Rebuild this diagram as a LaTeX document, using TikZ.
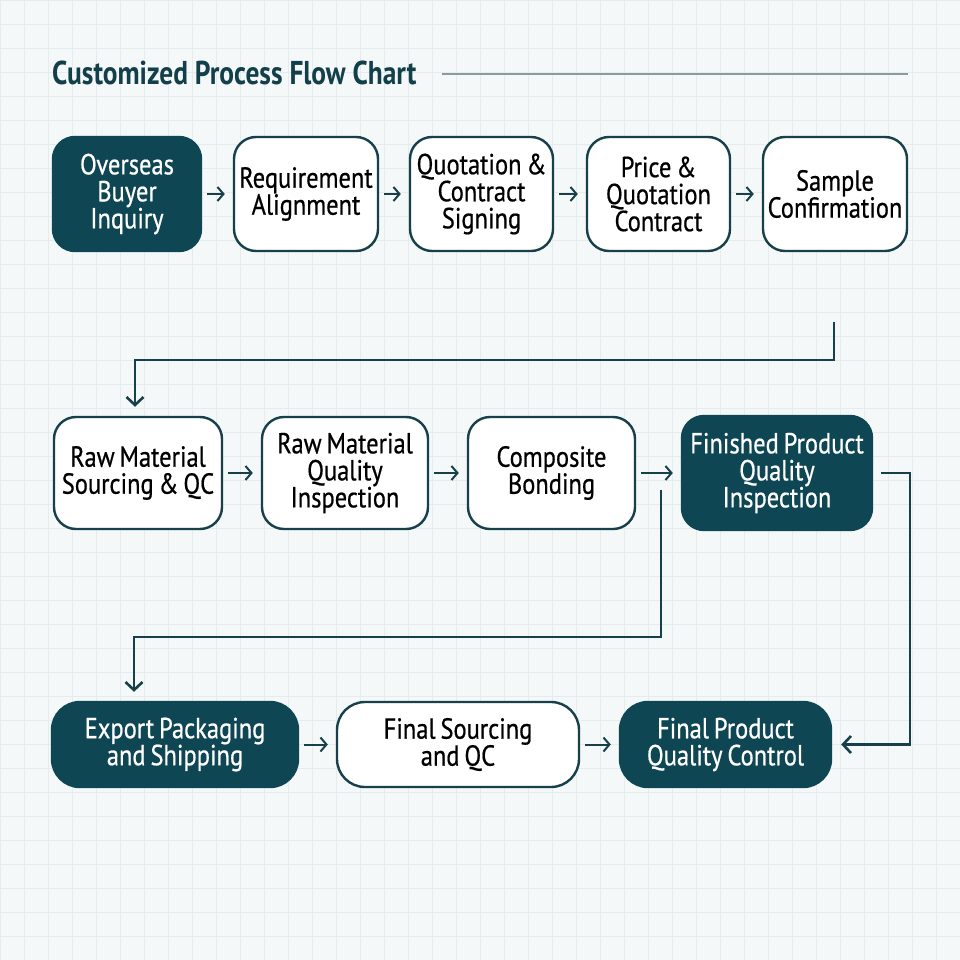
\documentclass[tikz,border=0pt]{standalone}
\usepackage{fontspec}
\setmainfont[FakeStretch=0.845,FakeBold=0.6,WordSpace=0.75]{PT Sans}
\newfontfamily\titlefont[FakeStretch=0.83]{PT Sans}
\usetikzlibrary{arrows.meta,calc}
\definecolor{bgc}{HTML}{F4F8F8}
\definecolor{gridc}{HTML}{E4ECED}
\definecolor{darkc}{HTML}{0E4654}
\definecolor{bordc}{HTML}{17404A}
\definecolor{titlec}{HTML}{133F4A}
\definecolor{rulec}{HTML}{8C9B9D}
\tikzset{
  box/.style={draw=bordc, line width=2.4pt, rounded corners=22pt, fill=white, text=black,
    align=center, inner sep=0pt, font=\fontsize{29}{27}\selectfont},
  dbox/.style={box, fill=darkc, draw=darkc, text=white},
  flow/.style={draw=bordc, line width=2pt, -{Straight Barb[length=6pt,width=14pt]},
    shorten <=5pt, shorten >=8pt},
  conn/.style={draw=bordc, line width=2.6pt, -{Straight Barb[length=8pt,width=17pt]}}
}
\begin{document}
\begin{tikzpicture}[x=1pt,y=-1pt]
\useasboundingbox (0,0) rectangle (960,960);
\fill[bgc] (0,0) rectangle (960,960);
\foreach \i in {0,24,...,960} {
  \draw[gridc, line width=0.6pt] (\i,0) -- (\i,960);
  \draw[gridc, line width=0.6pt] (0,\i) -- (960,\i);
}
% title
\node[anchor=base west, inner sep=0pt, text=titlec, font=\titlefont\bfseries\fontsize{33}{35}\selectfont] (title) at (52,85) {Customized Process Flow Chart};
\coordinate (ruleend) at (908,74);
\draw[rulec, line width=1.2pt] ($(title.base east)+(25,-11)$) -- (ruleend);
% row 1
\node[dbox, minimum width=148pt, minimum height=114pt] (b1) at (127,194) {Overseas\\Buyer\\Inquiry};
\node[box, minimum width=144pt, minimum height=114pt] (b2) at (306,194) {Requirement\\Alignment};
\node[box, minimum width=143pt, minimum height=114pt] (b3) at (481.5,194) {Quotation \&\\Contract\\Signing};
\node[box, minimum width=143pt, minimum height=114pt] (b4) at (658.5,194) {Price \&\\Quotation\\Contract};
\node[box, minimum width=144pt, minimum height=114pt] (b5) at (835,194) {Sample\\Confirmation};
% row 2
\node[box, minimum width=168pt, minimum height=112pt] (b6) at (138,473) {Raw Material\\Sourcing \& QC};
\node[box, minimum width=166pt, minimum height=112pt] (b7) at (345,473) {Raw Material\\Quality\\Inspection};
\node[box, minimum width=167pt, minimum height=112pt] (b8) at (551.5,473) {Composite\\Bonding};
\node[dbox, minimum width=190pt, minimum height=114pt] (b9) at (777,473) {Finished Product\\Quality\\Inspection};
% row 3
\node[dbox, rounded corners=28pt, minimum width=246pt, minimum height=85pt] (b10) at (175,744.5) {Export Packaging\\and Shipping};
\node[box, rounded corners=28pt, minimum width=242pt, minimum height=85pt] (b11) at (458,744.5) {Final Sourcing\\and QC};
\node[dbox, rounded corners=28pt, minimum width=211pt, minimum height=85pt] (b12) at (725.5,744.5) {Final Product\\Quality Control};
% short arrows
\draw[flow] (b1) -- (b2);
\draw[flow] (b2) -- (b3);
\draw[flow] (b3) -- (b4);
\draw[flow] (b4) -- (b5);
\draw[flow] (b6) -- (b7);
\draw[flow] (b7) -- (b8);
\draw[flow] (b8) -- (b9);
\draw[flow] (b10) -- (b11);
\draw[flow] (b11) -- (b12);
% connectors
\coordinate (c1) at (834,322);
\draw[conn, shorten >=9pt] (c1) -- (834,360) -| ([xshift=-3pt]b6.north);
\coordinate (c2) at (661,490);
\draw[conn, shorten >=9pt] (c2) -- (661,637) -| ([xshift=-41pt]b10.north);
\draw[conn, shorten <=8pt, shorten >=9pt] (b9.east) -- (910,473) |- (b12.east);
\end{tikzpicture}
\end{document}
